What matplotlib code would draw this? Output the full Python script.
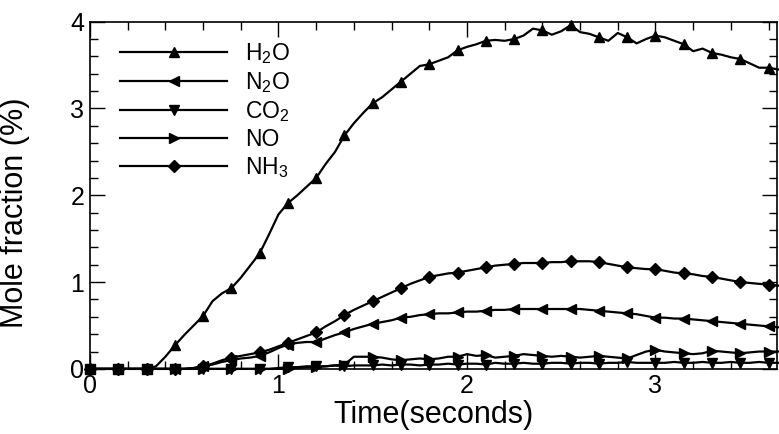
import numpy as np
import matplotlib
matplotlib.use('Agg')
import matplotlib.pyplot as plt
from matplotlib.ticker import MultipleLocator

plt.rcParams['font.family'] = ['Liberation Sans', 'DejaVu Sans']
plt.rcParams['mathtext.default'] = 'regular'

# time samples (s), one every 0.05 s
t = np.round(np.arange(0, 3.66, 0.05), 2)

h2o = [0, 0, 0, 0, 0, 0, 0, 0.03, 0.14, 0.27,
       0.39, 0.50, 0.61, 0.78, 0.87, 0.93, 1.05, 1.19, 1.33, 1.55,
       1.78, 1.91, 2.00, 2.10, 2.20, 2.36, 2.50, 2.69, 2.83, 2.95,
       3.06, 3.13, 3.22, 3.31, 3.40, 3.49, 3.51, 3.55, 3.59, 3.67,
       3.71, 3.74, 3.78, 3.79, 3.78, 3.80, 3.84, 3.92, 3.90, 3.85,
       3.89, 3.96, 3.88, 3.86, 3.82, 3.78, 3.87, 3.82, 3.75, 3.80,
       3.84, 3.82, 3.78, 3.74, 3.66, 3.69, 3.64, 3.62, 3.59, 3.57,
       3.52, 3.47, 3.47, 3.45]

n2o = [0, 0, 0, 0, 0, 0, 0, 0, 0, 0,
       0, 0.01, 0.03, 0.05, 0.08, 0.10, 0.12, 0.13, 0.15, 0.19,
       0.24, 0.28, 0.30, 0.31, 0.31, 0.35, 0.39, 0.42, 0.46, 0.49,
       0.52, 0.54, 0.56, 0.59, 0.60, 0.62, 0.63, 0.64, 0.64, 0.65,
       0.66, 0.66, 0.67, 0.68, 0.68, 0.69, 0.69, 0.69, 0.69, 0.69,
       0.69, 0.69, 0.69, 0.68, 0.67, 0.66, 0.65, 0.64, 0.63, 0.61,
       0.59, 0.59, 0.58, 0.58, 0.57, 0.56, 0.55, 0.54, 0.53, 0.52,
       0.51, 0.50, 0.49, 0.48]

co2 = [0, 0, 0, 0, 0, 0, 0, 0, 0, 0,
       0, 0, 0, 0, 0, 0, 0, 0, 0, 0,
       0.01, 0.02, 0.02, 0.03, 0.03, 0.03, 0.04, 0.03, 0.04, 0.04,
       0.04, 0.05, 0.04, 0.05, 0.05, 0.04, 0.05, 0.05, 0.06, 0.05,
       0.06, 0.06, 0.05, 0.07, 0.06, 0.06, 0.07, 0.06, 0.06, 0.07,
       0.07, 0.06, 0.07, 0.07, 0.06, 0.07, 0.07, 0.08, 0.07, 0.07,
       0.07, 0.07, 0.08, 0.07, 0.07, 0.08, 0.07, 0.07, 0.08, 0.07,
       0.07, 0.08, 0.07, 0.07]

no = [0, 0, 0, 0, 0, 0, 0, 0, 0, 0,
      0, 0, 0, 0, 0, 0, 0, 0, 0, 0,
      0, 0, 0.01, 0.02, 0.02, 0.03, 0.04, 0.05, 0.14, 0.14,
      0.14, 0.13, 0.11, 0.10, 0.11, 0.12, 0.11, 0.12, 0.14, 0.14,
      0.17, 0.15, 0.16, 0.13, 0.14, 0.15, 0.17, 0.16, 0.15, 0.14,
      0.15, 0.14, 0.13, 0.14, 0.15, 0.14, 0.13, 0.12, 0.16, 0.20,
      0.22, 0.20, 0.19, 0.18, 0.17, 0.18, 0.21, 0.20, 0.19, 0.18,
      0.19, 0.20, 0.20, 0.20]

nh3 = [0, 0, 0, 0, 0, 0, 0, 0, 0, 0,
       0, 0.01, 0.03, 0.06, 0.10, 0.13, 0.15, 0.17, 0.19, 0.22,
       0.26, 0.30, 0.34, 0.38, 0.42, 0.49, 0.55, 0.62, 0.68, 0.73,
       0.78, 0.83, 0.88, 0.93, 0.98, 1.02, 1.06, 1.08, 1.10, 1.11,
       1.13, 1.15, 1.17, 1.19, 1.20, 1.21, 1.22, 1.22, 1.22, 1.23,
       1.23, 1.24, 1.24, 1.24, 1.23, 1.21, 1.19, 1.17, 1.16, 1.15,
       1.15, 1.13, 1.11, 1.10, 1.09, 1.07, 1.06, 1.04, 1.02, 1.00,
       0.99, 0.98, 0.97, 0.96]

series = [(h2o, '^', 'H$_2$O'),
          (n2o, '<', 'N$_2$O'),
          (co2, 'v', 'CO$_2$'),
          (no, '>', 'NO'),
          (nh3, 'D', 'NH$_3$')]

fig = plt.figure(figsize=(7.79, 4.34), dpi=100)
ax = fig.add_axes([0.1155, 0.150, 0.8820, 0.800])

for vals, m, lab in series:
    ms = 6.5 if m == 'D' else 7.5
    ax.plot(t, vals, color='black', lw=1.6, marker=m, markersize=ms,
            markevery=3, label=lab, clip_on=False, zorder=3)

ax.set_xlim(0, 3.645)
ax.set_ylim(0, 4)
ax.xaxis.set_major_locator(MultipleLocator(1))
ax.xaxis.set_minor_locator(MultipleLocator(0.2))
ax.yaxis.set_major_locator(MultipleLocator(1))
ax.yaxis.set_minor_locator(MultipleLocator(0.2))
ax.tick_params(which='both', direction='in', top=True, right=True,
               width=1.0, labelsize=18)
ax.tick_params(which='major', length=11, pad=4)
ax.tick_params(which='minor', length=6)
for s in ax.spines.values():
    s.set_linewidth(1.2)

ax.set_xlabel('Time(seconds)', fontsize=22, labelpad=1)
ax.set_ylabel('Mole fraction (%)', fontsize=22)
ax.yaxis.set_label_coords(-0.087, 0.45)

ax.legend(loc='upper left', bbox_to_anchor=(0.03, 0.97), frameon=False,
          fontsize=16.5, handlelength=4.7, handletextpad=0.75,
          labelspacing=0.18, borderaxespad=0)

fig.savefig('out.png', dpi=100)
